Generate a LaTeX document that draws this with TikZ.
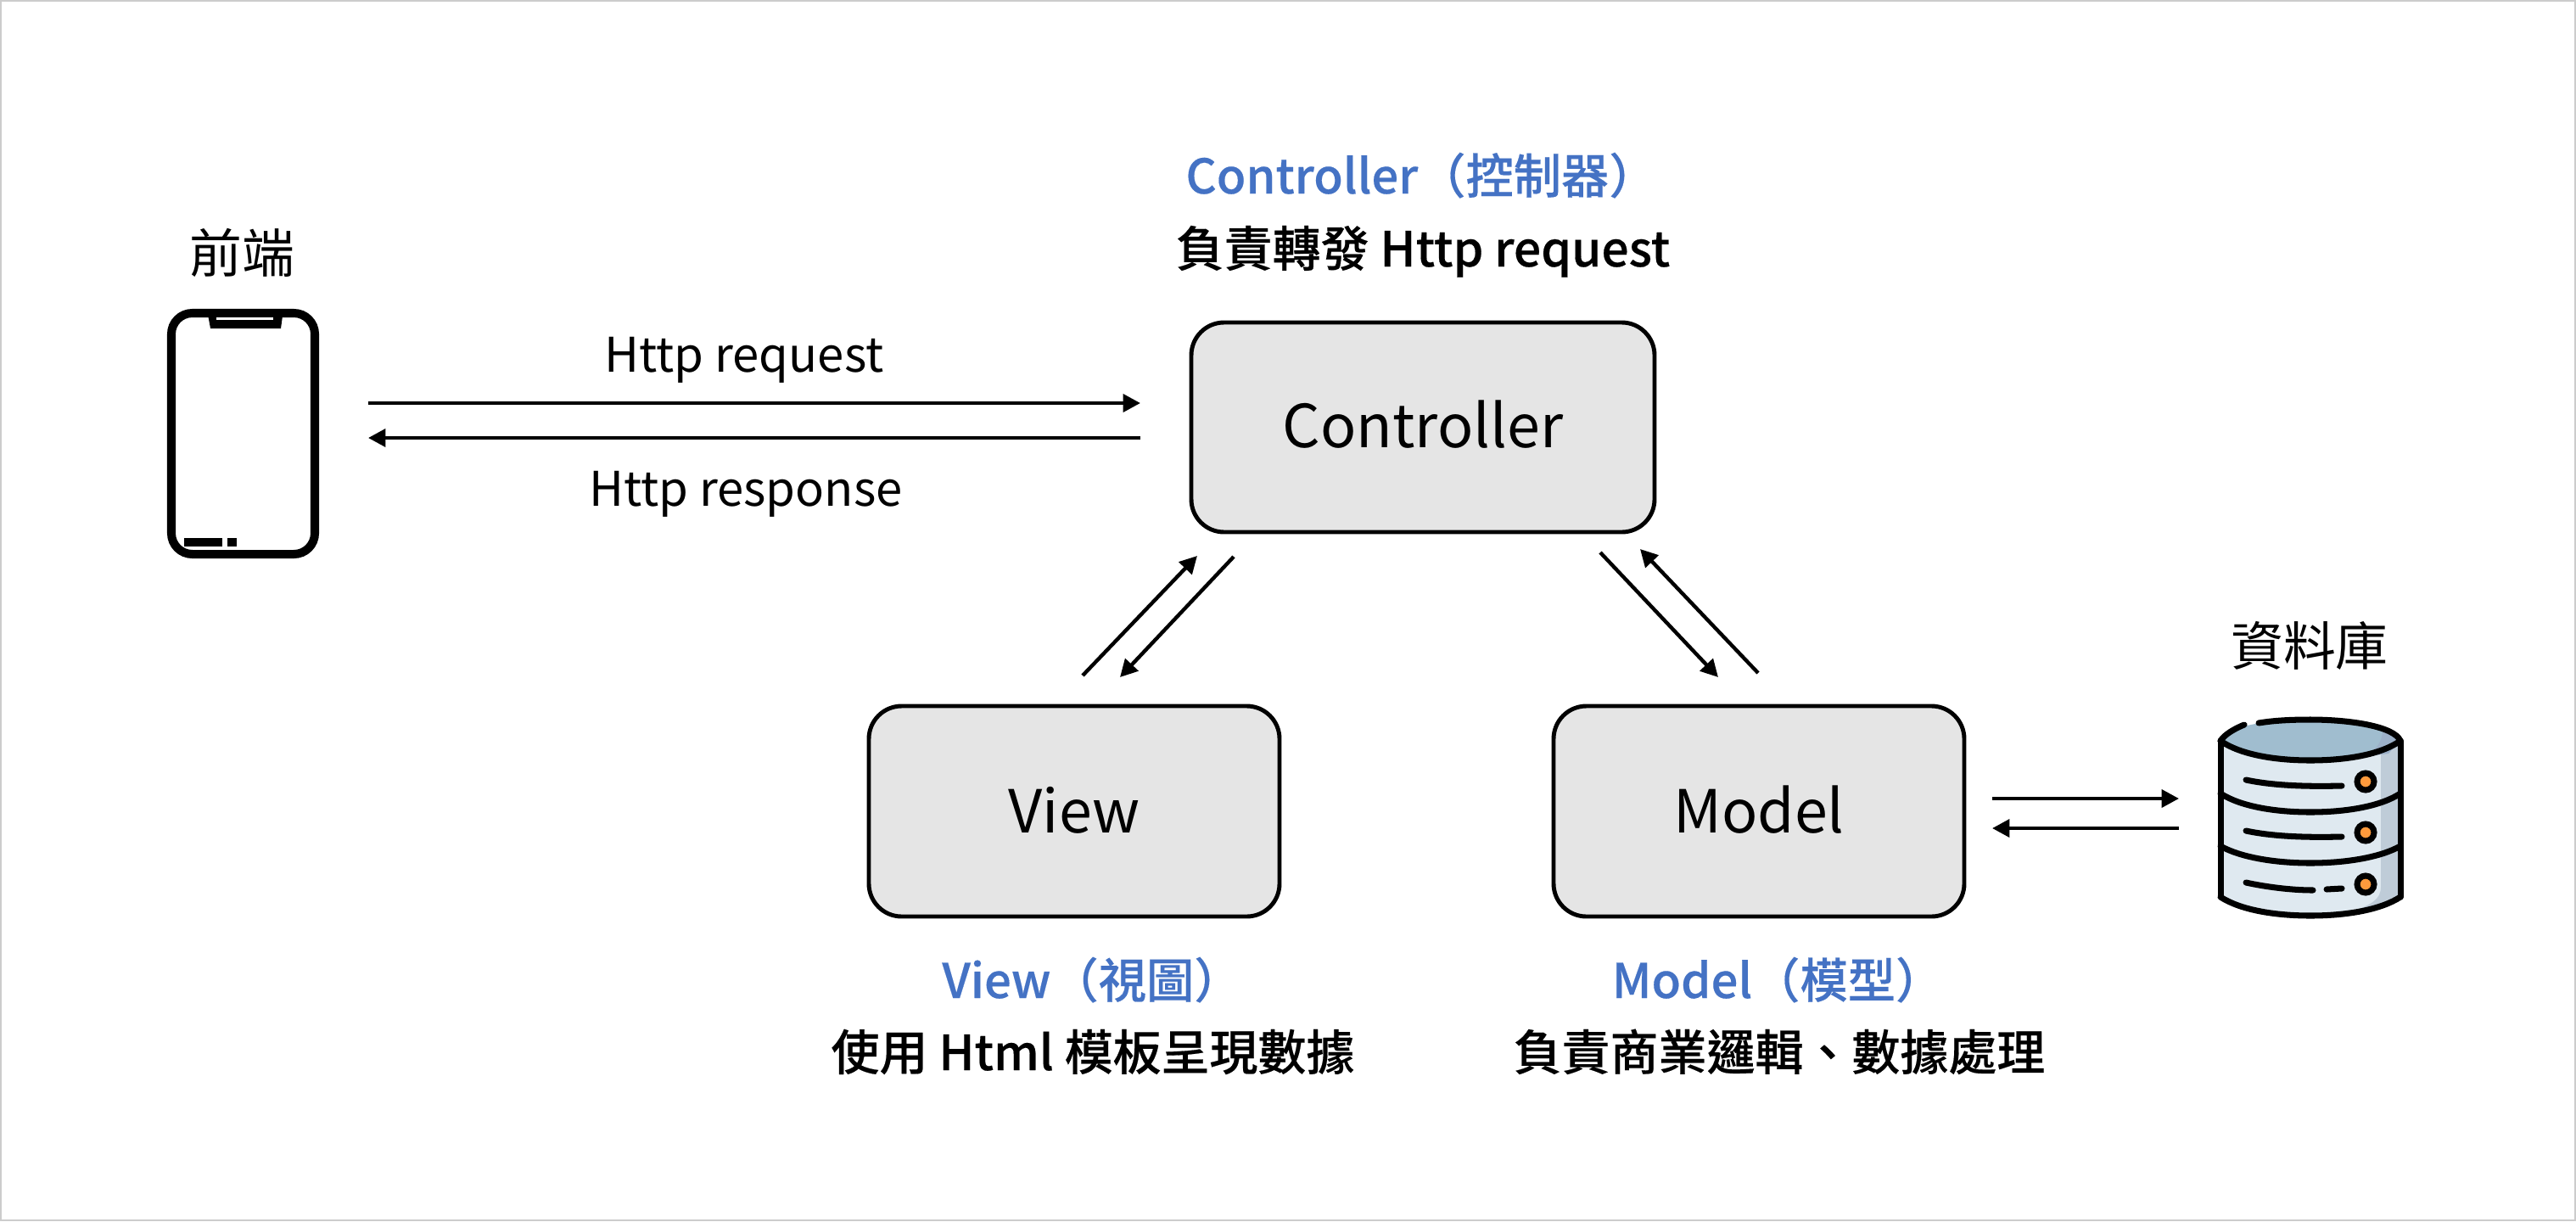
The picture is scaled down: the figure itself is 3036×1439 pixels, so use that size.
\documentclass[tikz,border=0pt]{standalone}
\usepackage{fontspec}
\setmainfont{Noto Sans CJK TC}
\newfontfamily\medfont[FakeBold=0.3]{Noto Sans CJK TC Medium}
\usetikzlibrary{arrows.meta}
\definecolor{titleblue}{HTML}{4472C4}
\definecolor{boxgray}{HTML}{E5E5E5}
\definecolor{framegray}{HTML}{CCCCCC}
\definecolor{dbtop}{HTML}{A0BDCF}
\definecolor{dbdark}{HTML}{9CB0C8}
\definecolor{dbbody}{HTML}{DFE9F0}
\definecolor{dbshade}{HTML}{BFCCD8}
\definecolor{dbled}{HTML}{FF9A3C}
\tikzset{
  mvcbox/.style={draw,line width=1.4pt,fill=boxgray,rounded corners=11pt},
  flow/.style={line width=1.25pt,-{Triangle[length=5.8pt,width=5.9pt]}},
  boxtext/.style={anchor=base,font=\fontsize{19.9}{24}\selectfont},
  flowtext/.style={anchor=base,font=\fontsize{16}{20}\selectfont},
  endtext/.style={anchor=base,font=\fontsize{17.6}{22}\selectfont},
  title/.style={anchor=base,text=titleblue,font=\fontsize{16}{20}\selectfont\medfont},
  duty/.style={anchor=base,font=\fontsize{16.2}{20}\selectfont\medfont},
  dbline/.style={line width=2pt,line cap=round},
}
\begin{document}
\begin{tikzpicture}[x=0.01cm,y=-0.01cm]
\useasboundingbox (0,0) rectangle (3036,1439);
\draw[framegray,line width=0.57pt] (1,1) rectangle (3035,1438);
% boxes
\path[mvcbox] (1404,380) rectangle (1950,627);
\path[mvcbox] (1024,832) rectangle (1508,1080);
\path[mvcbox] (1831,832) rectangle (2315,1080);
\node[boxtext] (controller) at (1677,527) {Controller};
\node[boxtext] (view) at (1266,981) {View};
\node[boxtext] (model) at (2073,981) {Model};
% texts
\node[title] (ctitle) at (1675,228) {Controller（控制器）};
\node[duty] (cduty) at (1677,314) {負責轉發 Http request};
\node[title] (vtitle) at (1287,1176) {View（視圖）};
\node[duty] (vduty) at (1288,1261) {使用 Html 模板呈現數據};
\node[title] (mtitle) at (2095,1176) {Model（模型）};
\node[duty] (mduty) at (2097,1261) {負責商業邏輯、數據處理};
\node[endtext] (front) at (285,321) {前端};
\node[endtext] (dbname) at (2722,784) {資料庫};
\node[flowtext] (req) at (877,438) {Http request};
\node[flowtext] (res) at (879,596) {Http response};
% arrow ends
\coordinate (p1) at (434,475);
\coordinate (c1) at (1344,475);
\coordinate (c2) at (1344,516);
\coordinate (p2) at (434,516);
\coordinate (v1) at (1276,796);
\coordinate (c3) at (1411,655);
\coordinate (c4) at (1454,656);
\coordinate (v2) at (1320,798);
\coordinate (c5) at (1886,651);
\coordinate (m1) at (2025,798);
\coordinate (m2) at (2072,793);
\coordinate (c6) at (1933,647);
\coordinate (m3) at (2348,941);
\coordinate (d1) at (2568,941);
\coordinate (d2) at (2568,976);
\coordinate (m4) at (2348,976);
\draw[flow] (p1) -- (c1);
\draw[flow] (c2) -- (p2);
\draw[flow] (v1) -- (c3);
\draw[flow] (c4) -- (v2);
\draw[flow] (c5) -- (m1);
\draw[flow] (m2) -- (c6);
\draw[flow] (m3) -- (d1);
\draw[flow] (d2) -- (m4);
% phone
\draw[line width=2.85pt,rounded corners=7pt] (202,369) rectangle (371,653);
\fill (244,365) -- (248,387) -- (331,387) -- (334,365) -- cycle;
\fill[white] (255,374) rectangle (322,377);
\fill (217,634) rectangle (262,644);
\fill (268,634) rectangle (279,644);
% database
\newcommand\band[2]{
\draw[dbline] (2617,#1) .. controls (2640,#2-7) and (2680,#2) .. (2723,#2)
  .. controls (2766,#2) and (2806,#2-7) .. (2829,#1);
}
\newcommand\dbrow[1]{
\draw[dbline] (2647,#1-2) .. controls (2680,#1+5) and (2720,#1+6) .. (2760,#1+5);
\draw[line width=2pt,fill=dbled] (2788,#1) circle (10);
}
\fill[dbbody] (2617,873) -- (2617,1057) .. controls (2640,1072) and (2680,1079) .. (2723,1079)
  .. controls (2766,1079) and (2806,1072) .. (2829,1057) -- (2829,873) -- cycle;
\fill[dbshade] (2806,880) -- (2829,873) -- (2829,1057) .. controls (2820,1063) and (2800,1071) .. (2770,1075)
  .. controls (2795,1066) and (2806,1060) .. (2806,1045) -- cycle;
\fill[dbtop] (2723,872) ellipse (106 and 24);
\fill[dbdark] (2783,892) .. controls (2800,885) and (2808,875) .. (2808,860)
  -- (2829,872) -- (2815,888) -- cycle;
\band{873}{896}
\band{935}{957}
\band{997}{1017}
\draw[dbline] (2617,1057) .. controls (2640,1072) and (2680,1079) .. (2723,1079)
  .. controls (2766,1079) and (2806,1072) .. (2829,1057);
\draw[dbline] (2617,873) -- (2617,1057);
\draw[dbline] (2829,873) -- (2829,1057);
\draw[dbline] (2617,873) .. controls (2622,865) and (2635,858) .. (2645,854);
\draw[dbline] (2662,852) .. controls (2680,849) and (2700,848) .. (2723,848)
  .. controls (2770,848) and (2822,856) .. (2829,873);
\dbrow{921}
\dbrow{981}
\draw[dbline] (2647,1040) .. controls (2670,1045) and (2700,1049) .. (2726,1049);
\draw[dbline] (2742,1048) -- (2760,1047);
\draw[line width=2pt,fill=dbled] (2788,1042) circle (10);
\end{tikzpicture}
\end{document}
